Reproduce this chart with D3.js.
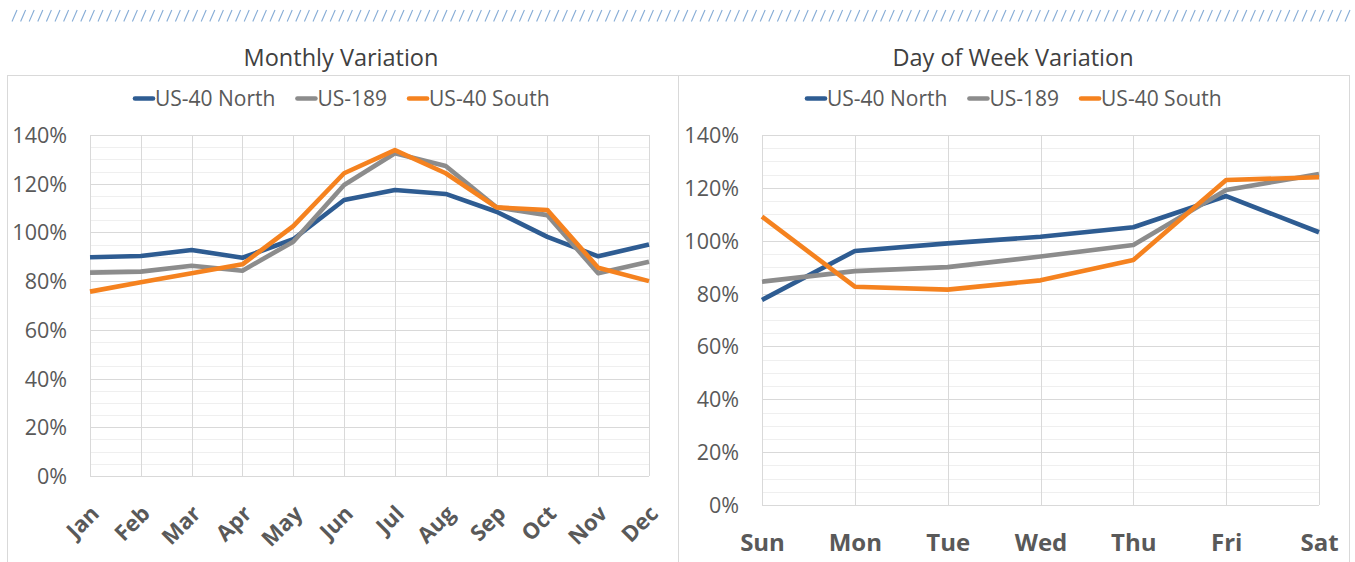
<!DOCTYPE html>
<html>
<head>
<meta charset="utf-8">
<script src="https://cdn.jsdelivr.net/npm/d3@7/dist/d3.min.js"></script>
<style>
  html, body { margin: 0; padding: 0; background: #fff; }
  svg { display: block; }
  text { font-family: "Open Sans", "Noto Sans", sans-serif; }
</style>
</head>
<body>
<svg id="chart" width="1355" height="562"></svg>
<script>
// ---------- DATA ----------
const months = ["Jan","Feb","Mar","Apr","May","Jun","Jul","Aug","Sep","Oct","Nov","Dec"];
const monthlyNorth = [89.8, 90.3, 92.8, 89.6, 97.2, 113.3, 117.4, 115.8, 108.5, 98.2, 90.2, 95.0];
const monthly189   = [83.5, 83.9, 86.3, 84.3, 96.2, 119.5, 132.5, 127.3, 110.3, 107.1, 83.2, 88.0];
const monthlySouth = [75.7, 79.5, 83.2, 86.9, 102.6, 124.3, 133.8, 124.3, 110.3, 109.2, 85.5, 80.0];

const days = ["Sun","Mon","Tue","Wed","Thu","Fri","Sat"];
const dowNorth = [77.6, 96.1, 99.0, 101.5, 105.1, 116.9, 103.2];
const dow189   = [84.5, 88.5, 90.0, 94.0, 98.4, 119.2, 125.2];
const dowSouth = [109.1, 82.6, 81.5, 85.0, 92.7, 123.0, 124.0];

const seriesNames = ["US-40 North", "US-189", "US-40 South"];
const seriesColors = ["#2e5c92", "#8c8c8c", "#f5821f"];
const yTicks = [0, 20, 40, 60, 80, 100, 120, 140];
const yMinor = d3.range(0, 141, 5);

const svg = d3.select("#chart");

// ---------- top hatch decoration ----------
const hatch = svg.append("g");
hatch.selectAll("line").data(d3.range(12, 1350, 8.6)).join("line")
  .attr("x1", d => d).attr("y1", 21.5)
  .attr("x2", d => d + 5).attr("y2", 10)
  .attr("stroke", "#86acd6").attr("stroke-width", 1.1);

function drawPanel(cfg) {
  const g = svg.append("g");
  // panel border
  g.append("rect")
    .attr("x", cfg.px0 + 0.5).attr("y", 75.5)
    .attr("width", cfg.px1 - cfg.px0).attr("height", 520)
    .attr("fill", "none").attr("stroke", "#d9d9d9").attr("stroke-width", 1);

  // title
  g.append("text").attr("x", cfg.titleX).attr("y", 66)
    .attr("text-anchor", "middle").attr("font-size", 23.5).attr("fill", "#404040")
    .text(cfg.title);

  const x = d3.scalePoint().domain(cfg.cats).range([cfg.x0, cfg.x1]);
  const y = d3.scaleLinear().domain([0, 140]).range([cfg.yb, cfg.yt]);

  // minor gridlines
  g.append("g").selectAll("line").data(yMinor.filter(v => v % 20 !== 0)).join("line")
    .attr("x1", cfg.x0).attr("x2", cfg.x1)
    .attr("y1", d => Math.round(y(d)) + 0.5).attr("y2", d => Math.round(y(d)) + 0.5)
    .attr("stroke", "#efefef").attr("stroke-width", 1);
  // major gridlines
  g.append("g").selectAll("line").data(yTicks).join("line")
    .attr("x1", cfg.x0).attr("x2", cfg.x1)
    .attr("y1", d => Math.round(y(d)) + 0.5).attr("y2", d => Math.round(y(d)) + 0.5)
    .attr("stroke", "#d9d9d9").attr("stroke-width", 1);
  // vertical gridlines
  g.append("g").selectAll("line").data(cfg.cats).join("line")
    .attr("x1", d => Math.round(x(d)) + 0.5).attr("x2", d => Math.round(x(d)) + 0.5)
    .attr("y1", cfg.yt).attr("y2", cfg.yb)
    .attr("stroke", "#d9d9d9").attr("stroke-width", 1);

  // y axis labels (d3 axis, domain hidden)
  const yAxis = d3.axisLeft(y).tickValues(yTicks).tickSize(0).tickPadding(0)
    .tickFormat(d => d + "%");
  const ya = g.append("g").attr("transform", `translate(${cfg.x0 - 23},0)`).call(yAxis);
  ya.select(".domain").remove();
  ya.selectAll("text").attr("font-size", 21.5).attr("fill", "#595959")
    .attr("font-family", "'Open Sans', sans-serif").attr("dy", "0.35em");

  // x axis labels
  const xAxis = d3.axisBottom(x).tickSize(0).tickPadding(0);
  const xa = g.append("g").attr("transform", `translate(0,${cfg.yb})`).call(xAxis);
  xa.select(".domain").remove();
  xa.selectAll("text").attr("font-size", cfg.xFont).attr("font-weight", "bold")
    .attr("fill", "#595959").attr("font-family", "'Open Sans', sans-serif");
  if (cfg.rotate) {
    xa.selectAll("text")
      .attr("text-anchor", "end").attr("dy", null).attr("y", null)
      .attr("transform", "translate(10,39) rotate(-45)");
  } else {
    xa.selectAll("text").attr("y", 46).attr("dy", null);
  }

  // lines
  const line = d3.line().x((d, i) => x(cfg.cats[i])).y(d => y(d));
  cfg.series.forEach((s, i) => {
    g.append("path").datum(s)
      .attr("d", line).attr("fill", "none")
      .attr("stroke", seriesColors[i]).attr("stroke-width", 4.6)
      .attr("stroke-linejoin", "round").attr("stroke-linecap", "butt");
  });

  // legend
  const lg = g.append("g");
  let cx = cfg.legendX;
  seriesNames.forEach((n, i) => {
    lg.append("line").attr("x1", cx + 2).attr("x2", cx + 20)
      .attr("y1", 98.5).attr("y2", 98.5)
      .attr("stroke", seriesColors[i]).attr("stroke-width", 4.6).attr("stroke-linecap", "round");
    const t = lg.append("text").attr("x", cx + 22).attr("y", 98.5).attr("dy", "0.35em")
      .attr("font-size", 21).attr("fill", "#595959").text(n);
    cx += 22 + t.node().getComputedTextLength() + 20;
  });
}

drawPanel({
  px0: 7, px1: 678, title: "Monthly Variation", titleX: 341,
  cats: months, x0: 90, x1: 649, yt: 135, yb: 476,
  series: [monthlyNorth, monthly189, monthlySouth],
  legendX: 133, rotate: true, xFont: 22
});
drawPanel({
  px0: 678, px1: 1349, title: "Day of Week Variation", titleX: 1013,
  cats: days, x0: 762, x1: 1319, yt: 135, yb: 505,
  series: [dowNorth, dow189, dowSouth],
  legendX: 805, rotate: false, xFont: 24
});
</script>
</body>
</html>
